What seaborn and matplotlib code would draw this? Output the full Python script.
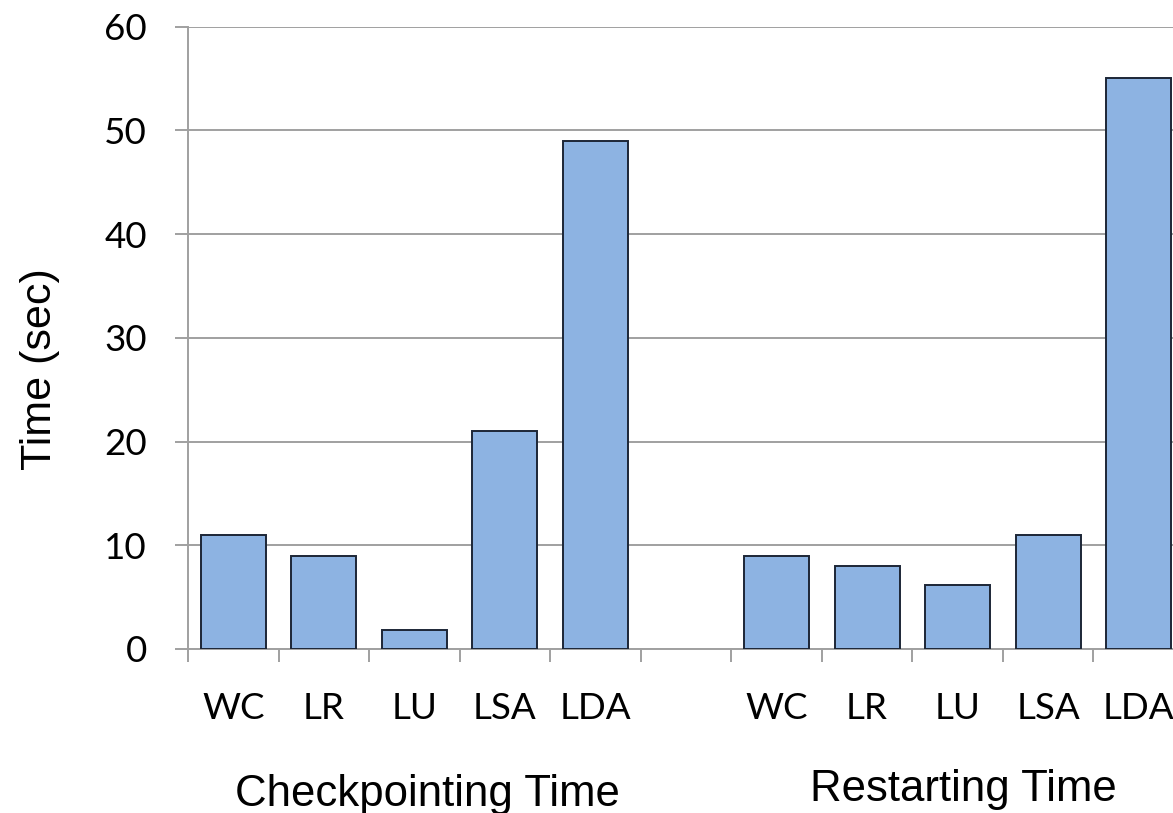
import matplotlib
matplotlib.use("Agg")
import matplotlib.pyplot as plt
import seaborn as sns
import pandas as pd
from matplotlib.ticker import FixedLocator

# ---- data ----
apps = ["WC", "LR", "LU", "LSA", "LDA"]
checkpoint_time = [11, 9, 1.8, 21, 49]
restart_time = [9, 8, 6.2, 11, 55]
group_labels = ["Checkpointing Time", "Restarting Time"]
y_ticks = [0, 10, 20, 30, 40, 50, 60]

keys_ck = ["ck_" + a for a in apps]
keys_rs = ["rs_" + a for a in apps]
order = keys_ck + ["gap"] + keys_rs
tick_labels = apps + [""] + apps

df = pd.DataFrame({
    "key": keys_ck + keys_rs,
    "time": checkpoint_time + restart_time,
})

sns.set_theme(style="white")
plt.rcParams["font.family"] = ["Liberation Sans", "DejaVu Sans"]
plt.rcParams["text.color"] = "black"

fig = plt.figure(figsize=(11.73, 8.13), dpi=100)
ax = fig.add_axes([188 / 1173, 1 - 649 / 813, (1184 - 188) / 1173, (649 - 26.5) / 813])

sns.barplot(data=df, x="key", y="time", order=order, ax=ax,
            color="#8DB3E2", saturation=1, width=0.717,
            edgecolor="#1c2636", linewidth=1.4, zorder=3)

ax.set_ylim(0, 60)
ax.set_xlim(-0.5, len(order) - 0.5)
ax.set_yticks(y_ticks)
ax.set_yticklabels([str(v) for v in y_ticks], fontfamily="Lato", fontsize=26.5)
ax.grid(axis="y", color="#a0a0a0", linewidth=1.4, zorder=0)
ax.set_axisbelow(True)

ax.set_xticks(range(len(order)))
ax.set_xticklabels(tick_labels, fontfamily="Lato", fontsize=26.5)
ax.xaxis.set_minor_locator(FixedLocator([i - 0.5 for i in range(len(order) + 1)]))
ax.tick_params(axis="x", which="major", length=0, pad=31, labelcolor="black")
ax.tick_params(axis="x", which="minor", length=9.4, width=1.4, color="#a0a0a0", bottom=True)
ax.tick_params(axis="y", which="major", length=9.4, width=1.4, color="#a0a0a0", pad=20,
               left=True, labelcolor="black")

for s in ["top", "right"]:
    ax.spines[s].set_visible(False)
for s in ["left", "bottom"]:
    ax.spines[s].set_color("#a0a0a0")
    ax.spines[s].set_linewidth(1.4)

ax.set_xlabel("")
ax.set_ylabel("")
fig.text(40 / 1173, 1 - 369 / 813, "Time (sec)", rotation=90, ha="center", va="center",
         fontsize=31, color="black")
fig.text(427.5 / 1173, 1 - 806 / 813, group_labels[0], ha="center", va="baseline",
         fontsize=31.5, color="black")
fig.text(963 / 1173, 1 - 801 / 813, group_labels[1], ha="center", va="baseline",
         fontsize=31.5, color="black")

fig.savefig("out.png", dpi=100)
